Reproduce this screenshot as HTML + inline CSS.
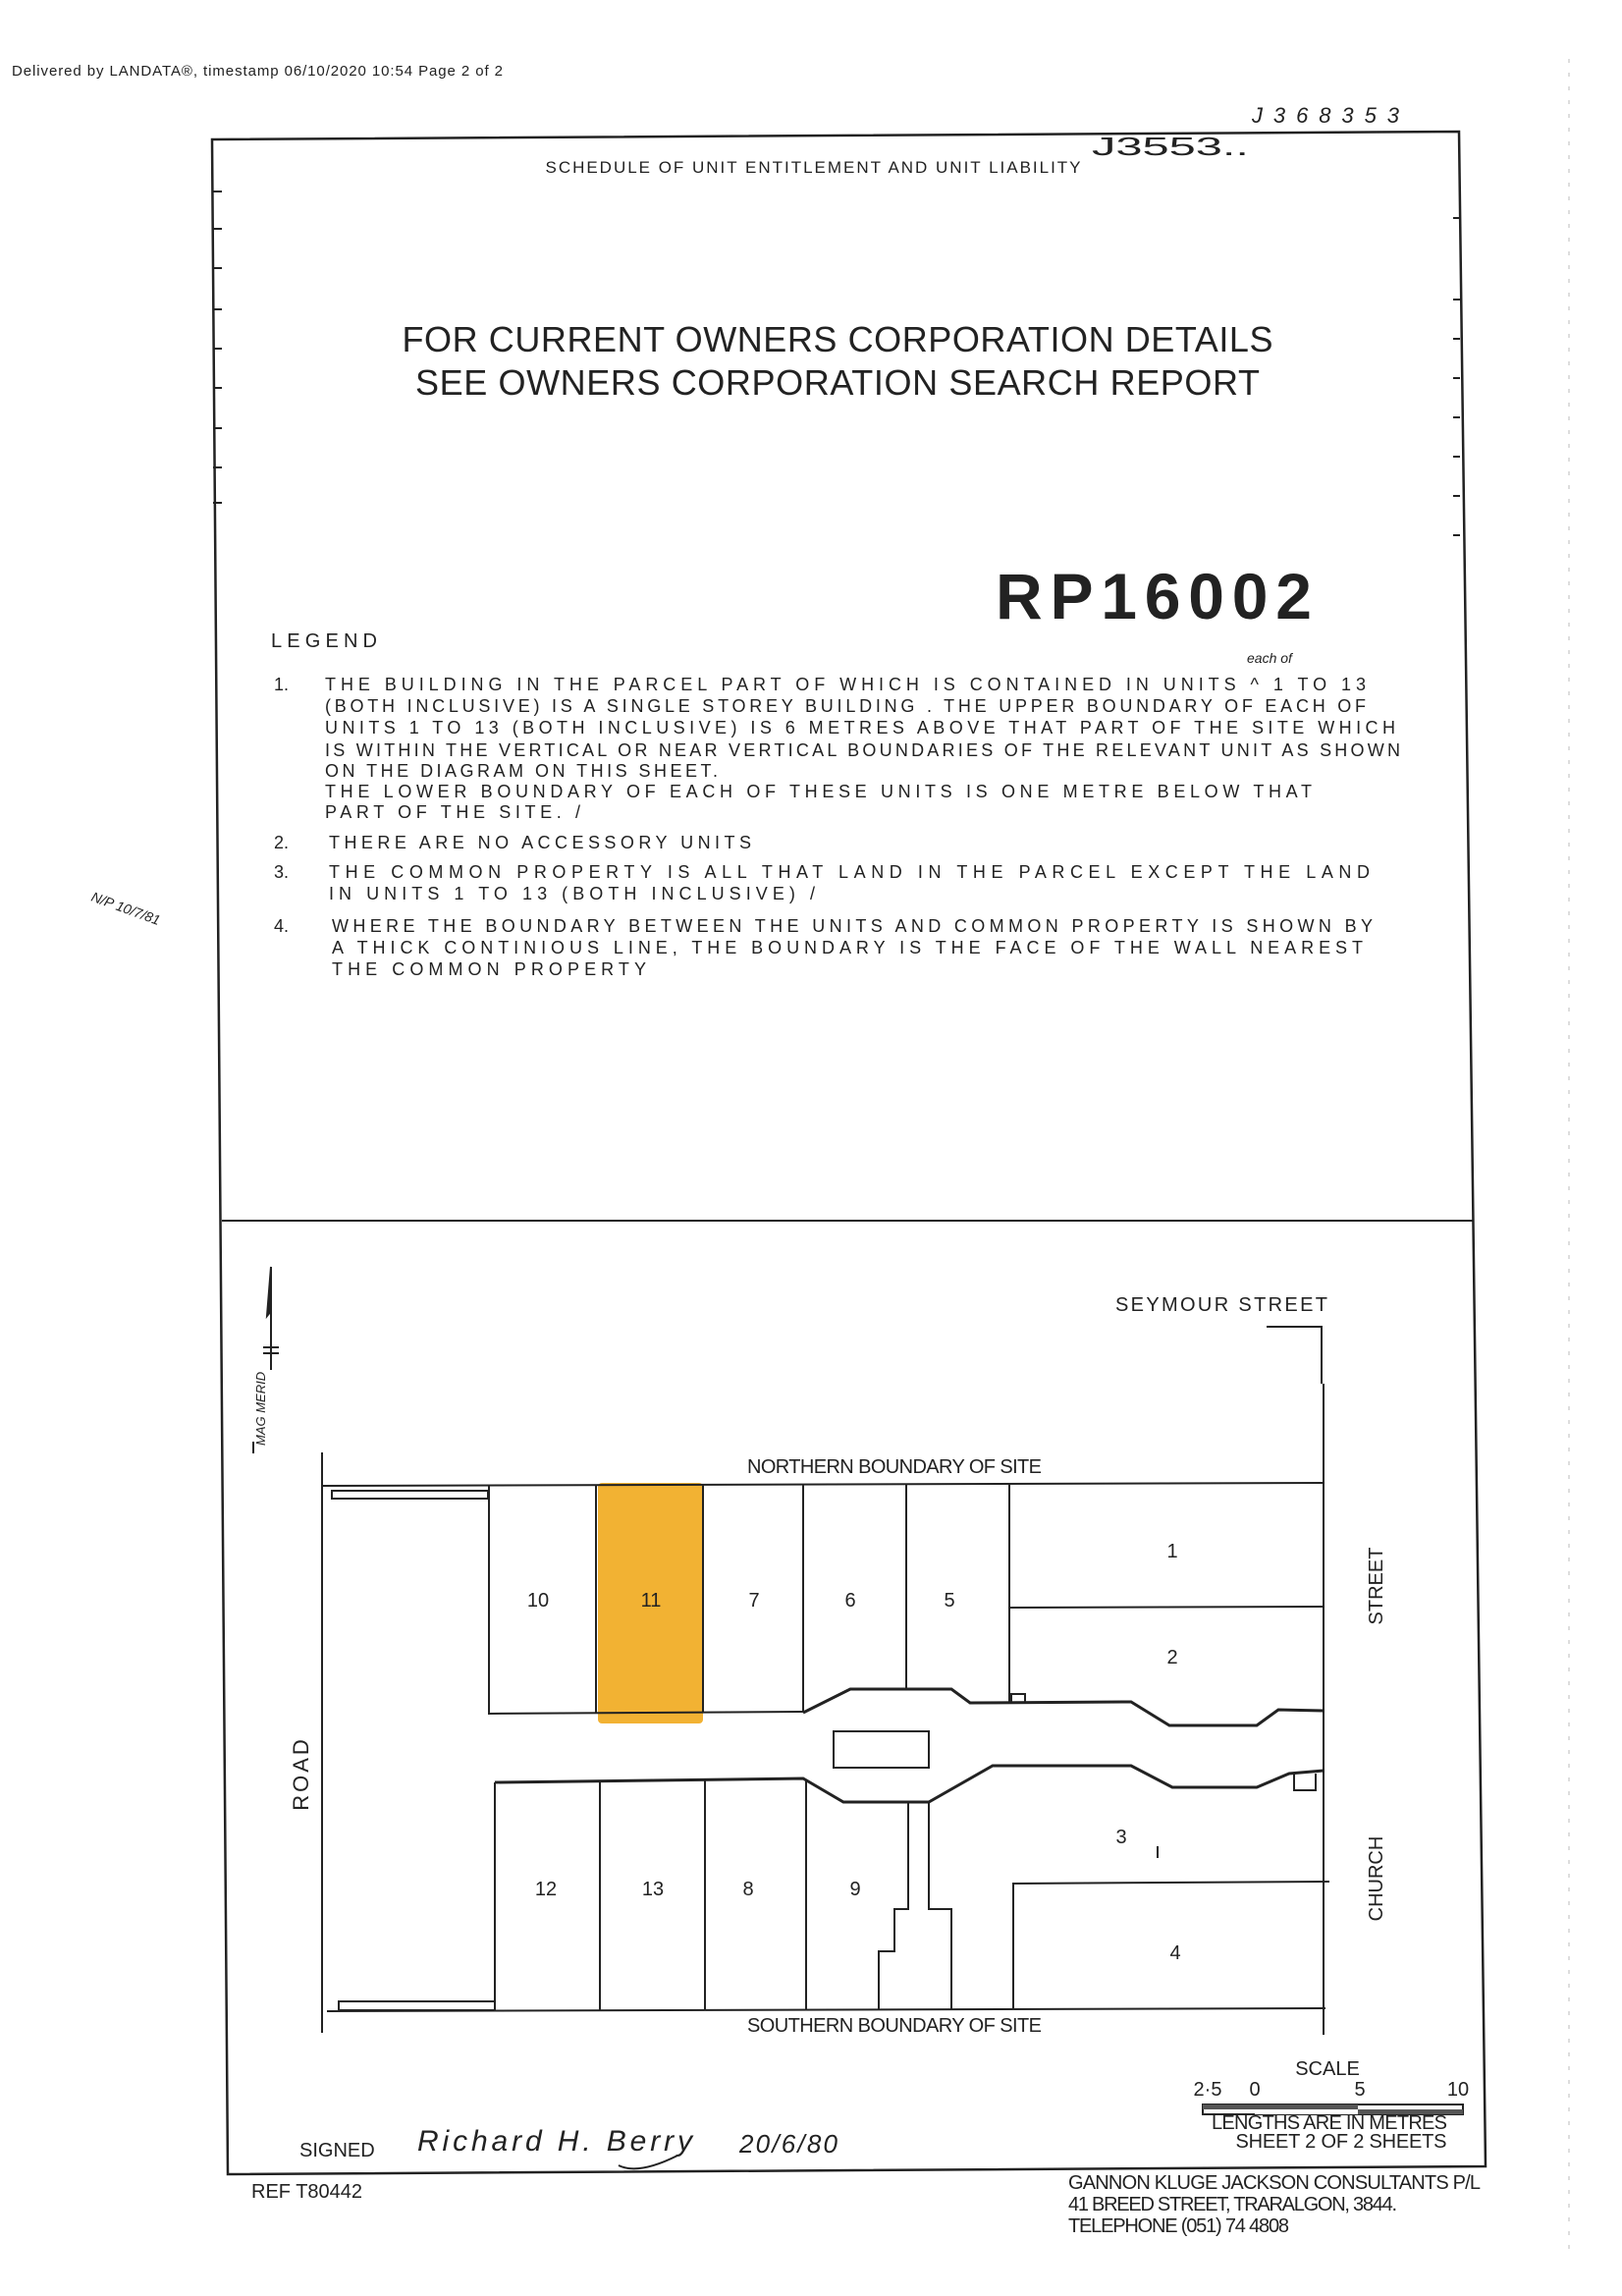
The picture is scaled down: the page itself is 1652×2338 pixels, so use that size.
<!DOCTYPE html>
<html><head><meta charset="utf-8"><style>
html,body{margin:0;padding:0;background:#fff;}
svg{display:block;}
text{font-family:"Liberation Sans",sans-serif;fill:#222;}
.lg{font-size:18px;}
.cad{font-family:"Liberation Sans Narrow","Liberation Sans",sans-serif;font-size:20px;}
</style></head><body>
<svg width="1652" height="2338" viewBox="0 0 1652 2338" xmlns="http://www.w3.org/2000/svg">
<text x="12" y="77" font-size="15" textLength="500">Delivered by LANDATA®, timestamp 06/10/2020 10:54  Page 2 of 2</text>
<text x="1275" y="125" font-size="22" font-style="italic" textLength="150">J368353</text>
<text x="1112" y="158" font-size="26" fill="#444" textLength="160" lengthAdjust="spacingAndGlyphs">J3553..</text>
<!-- frame -->
<path d="M216,142 L1486,134 L1513,2206 L232,2214 Z" fill="none" stroke="#222" stroke-width="2.5"/>
<line x1="226" y1="1243" x2="1500" y2="1243" stroke="#222" stroke-width="2"/>
<g stroke="#222" stroke-width="2">
<line x1="217" y1="195" x2="226" y2="195"/><line x1="217" y1="233" x2="226" y2="233"/><line x1="217" y1="273" x2="226" y2="273"/><line x1="217" y1="315" x2="226" y2="315"/><line x1="217" y1="355" x2="226" y2="355"/><line x1="217" y1="395" x2="226" y2="395"/><line x1="217" y1="436" x2="226" y2="436"/><line x1="217" y1="476" x2="226" y2="476"/><line x1="217" y1="512" x2="226" y2="512"/>
<line x1="1480" y1="222" x2="1487" y2="222"/><line x1="1480" y1="305" x2="1487" y2="305"/><line x1="1480" y1="345" x2="1487" y2="345"/><line x1="1480" y1="385" x2="1487" y2="385"/><line x1="1480" y1="425" x2="1487" y2="425"/><line x1="1480" y1="465" x2="1487" y2="465"/><line x1="1480" y1="505" x2="1487" y2="505"/><line x1="1480" y1="545" x2="1487" y2="545"/>
</g>
<text x="828" y="176" font-size="17" text-anchor="middle" textLength="545">SCHEDULE OF UNIT ENTITLEMENT AND UNIT LIABILITY</text>
<text x="853" y="358" font-size="36" text-anchor="middle" textLength="887">FOR CURRENT OWNERS CORPORATION DETAILS</text>
<text x="853" y="402" font-size="36" text-anchor="middle" textLength="860">SEE OWNERS CORPORATION SEARCH REPORT</text>
<text x="1014" y="630" font-size="66" font-family="Liberation Mono" font-weight="bold" fill="#333" textLength="322">RP16002</text>
<text x="276" y="659" font-size="20" textLength="108">LEGEND</text>
<text x="1270" y="675" font-size="14" font-style="italic">each of</text>
<g class="lg">
<text x="279" y="703">1.</text>
<text x="331" y="703" textLength="1060">THE BUILDING  IN THE  PARCEL PART OF WHICH  IS  CONTAINED  IN UNITS ^ 1 TO 13</text>
<text x="331" y="725" textLength="1060">(BOTH INCLUSIVE) IS A  SINGLE STOREY BUILDING . THE UPPER BOUNDARY OF EACH OF</text>
<text x="331" y="747" textLength="1090">UNITS 1 TO 13 (BOTH INCLUSIVE) IS 6 METRES ABOVE THAT PART OF THE SITE WHICH</text>
<text x="331" y="770" textLength="1095">IS WITHIN THE VERTICAL OR NEAR VERTICAL BOUNDARIES OF THE RELEVANT UNIT AS SHOWN</text>
<text x="331" y="791" textLength="400">ON THE DIAGRAM ON THIS SHEET.</text>
<text x="331" y="812" textLength="1005">THE LOWER BOUNDARY OF EACH OF THESE UNITS IS ONE METRE BELOW THAT</text>
<text x="331" y="833" textLength="260">PART OF THE SITE. /</text>
<text x="279" y="864">2.</text>
<text x="335" y="864" textLength="430">THERE ARE NO ACCESSORY UNITS</text>
<text x="279" y="894">3.</text>
<text x="335" y="894" textLength="1060">THE COMMON PROPERTY IS ALL THAT LAND IN THE PARCEL EXCEPT THE LAND</text>
<text x="335" y="916" textLength="495">IN UNITS 1 TO 13 (BOTH INCLUSIVE) /</text>
<text x="279" y="949">4.</text>
<text x="338" y="949" textLength="1060">WHERE THE BOUNDARY BETWEEN THE UNITS AND COMMON PROPERTY IS SHOWN BY</text>
<text x="338" y="971" textLength="1050">A THICK CONTINIOUS LINE, THE BOUNDARY IS THE FACE OF THE  WALL NEAREST</text>
<text x="338" y="993" textLength="320">THE COMMON PROPERTY</text>
</g>
<text x="92" y="917" font-size="14" font-style="italic" transform="rotate(20 92 917)">N/P 10/7/81</text>

<!-- diagram -->
<text x="1136" y="1335" class="cad" font-size="22" textLength="216">SEYMOUR STREET</text>
<polyline points="1290,1351 1346,1351 1346,1409" fill="none" stroke="#222" stroke-width="2"/>
<g stroke="#222" stroke-width="2" fill="none">
<line x1="276" y1="1290" x2="276" y2="1395"/>
<polygon points="276,1290 272,1340 276,1335" fill="#222"/>
<line x1="268" y1="1372" x2="284" y2="1372"/><line x1="268" y1="1378" x2="284" y2="1378"/>
<line x1="258" y1="1468" x2="258" y2="1480"/>
</g>
<text x="270" y="1472" font-size="13" font-style="italic" transform="rotate(-90 270 1472)">MAG MERID</text>

<rect x="609" y="1510" width="107" height="245" fill="#f2b233" rx="4"/>
<text x="911" y="1500" class="cad" text-anchor="middle" textLength="300" font-size="18">NORTHERN BOUNDARY OF SITE</text>
<text x="911" y="2069" class="cad" text-anchor="middle" textLength="300" font-size="18">SOUTHERN BOUNDARY OF SITE</text>
<g stroke="#222" stroke-width="2" fill="none">
<line x1="328" y1="1479" x2="328" y2="2070"/>
<line x1="328" y1="1513" x2="1348" y2="1510"/>
<line x1="1348" y1="1409" x2="1348" y2="2072"/>
<line x1="333" y1="2048" x2="1350" y2="2045"/>
<rect x="338" y="1518" width="159" height="8"/>
<rect x="345" y="2038" width="159" height="9"/>
<polyline points="498,1513 498,1745 818,1743"/>
<line x1="607" y1="1512" x2="607" y2="1744"/>
<line x1="716" y1="1512" x2="716" y2="1744"/>
<line x1="818" y1="1512" x2="818" y2="1744"/>
<line x1="923" y1="1511" x2="923" y2="1720"/>
<line x1="1028" y1="1511" x2="1028" y2="1734"/>
<line x1="1028" y1="1637" x2="1348" y2="1636"/>
<polyline points="818,1744 866,1720 969,1720 988,1734 1152,1733 1191,1757 1280,1757 1302,1741 1348,1742" stroke-width="3"/>
<rect x="1030" y="1725" width="14" height="9"/>
<rect x="849" y="1763" width="97" height="37"/>
<polyline points="504,1815 818,1811 859,1835 946,1835 1011,1798 1152,1798 1194,1820 1280,1820 1313,1806 1348,1803" stroke-width="3"/>
<polyline points="1318,1806 1318,1823 1340,1823 1340,1806"/>
<line x1="504" y1="1815" x2="504" y2="2047"/>
<line x1="611" y1="1814" x2="611" y2="2047"/>
<line x1="718" y1="1813" x2="718" y2="2047"/>
<line x1="821" y1="1812" x2="821" y2="2046"/>
<polyline points="925,1835 925,1944 911,1944 911,1987 895,1987 895,2046"/>
<polyline points="946,1835 946,1944 969,1944 969,2046"/>
<polyline points="1032,2046 1032,1918 1354,1916"/>
<line x1="1179" y1="1880" x2="1179" y2="1892"/>
</g>
<g class="cad" text-anchor="middle" font-size="22">
<text x="548" y="1636">10</text><text x="663" y="1636">11</text><text x="768" y="1636">7</text><text x="866" y="1636">6</text><text x="967" y="1636">5</text>
<text x="1194" y="1586">1</text><text x="1194" y="1694">2</text><text x="1142" y="1877">3</text>
<text x="556" y="1930">12</text><text x="665" y="1930">13</text><text x="762" y="1930">8</text><text x="871" y="1930">9</text><text x="1197" y="1995">4</text>
</g>
<text x="314" y="1806" font-size="22" text-anchor="middle" transform="rotate(-90 314 1806)" letter-spacing="3">ROAD</text>
<text x="1408" y="1615" font-size="22" text-anchor="middle" transform="rotate(-90 1408 1615)" class="cad">STREET</text>
<text x="1408" y="1913" font-size="22" text-anchor="middle" transform="rotate(-90 1408 1913)" class="cad">CHURCH</text>

<!-- scale -->
<text x="1352" y="2113" class="cad" text-anchor="middle" font-size="18">SCALE</text>
<text x="1230" y="2134" class="cad" text-anchor="middle" font-size="17">2·5</text>
<text x="1278" y="2134" class="cad" text-anchor="middle" font-size="17">0</text>
<text x="1385" y="2134" class="cad" text-anchor="middle" font-size="17">5</text>
<text x="1485" y="2134" class="cad" text-anchor="middle" font-size="17">10</text>
<rect x="1225" y="2143" width="265" height="10" fill="#fff" stroke="#222" stroke-width="2"/>
<rect x="1225" y="2143" width="53" height="5" fill="#555"/>
<rect x="1278" y="2143" width="105" height="5" fill="#555"/>
<rect x="1278" y="2148" width="105" height="5" fill="#fff"/>
<rect x="1383" y="2148" width="107" height="5" fill="#555"/>
<text x="1354" y="2168" class="cad" text-anchor="middle" font-size="18" textLength="240">LENGTHS ARE IN METRES</text>
<text x="1366" y="2187" class="cad" text-anchor="middle" font-size="18" textLength="215">SHEET 2 OF 2 SHEETS</text>
<text x="305" y="2196" class="cad" font-size="18">SIGNED</text>
<text x="425" y="2190" font-size="30" font-style="italic" font-family="Liberation Serif" textLength="280">Richard H. Berry</text>
<path d="M630,2205 Q650,2215 690,2195" stroke="#222" fill="none" stroke-width="2"/>
<text x="753" y="2192" font-size="26" font-style="italic" font-family="Liberation Serif" textLength="100">20/6/80</text>
<text x="256" y="2238" class="cad" font-size="17">REF T80442</text>
<text x="1088" y="2229" class="cad" font-size="17" textLength="420">GANNON KLUGE JACKSON CONSULTANTS P/L</text>
<text x="1088" y="2251" class="cad" font-size="17" textLength="335">41 BREED STREET, TRARALGON, 3844.</text>
<text x="1088" y="2273" class="cad" font-size="17" textLength="225">TELEPHONE (051) 74 4808</text>
<line x1="1598" y1="60" x2="1598" y2="2300" stroke="#bbb" stroke-width="1" stroke-dasharray="4 10"/>
</svg>
</body></html>
